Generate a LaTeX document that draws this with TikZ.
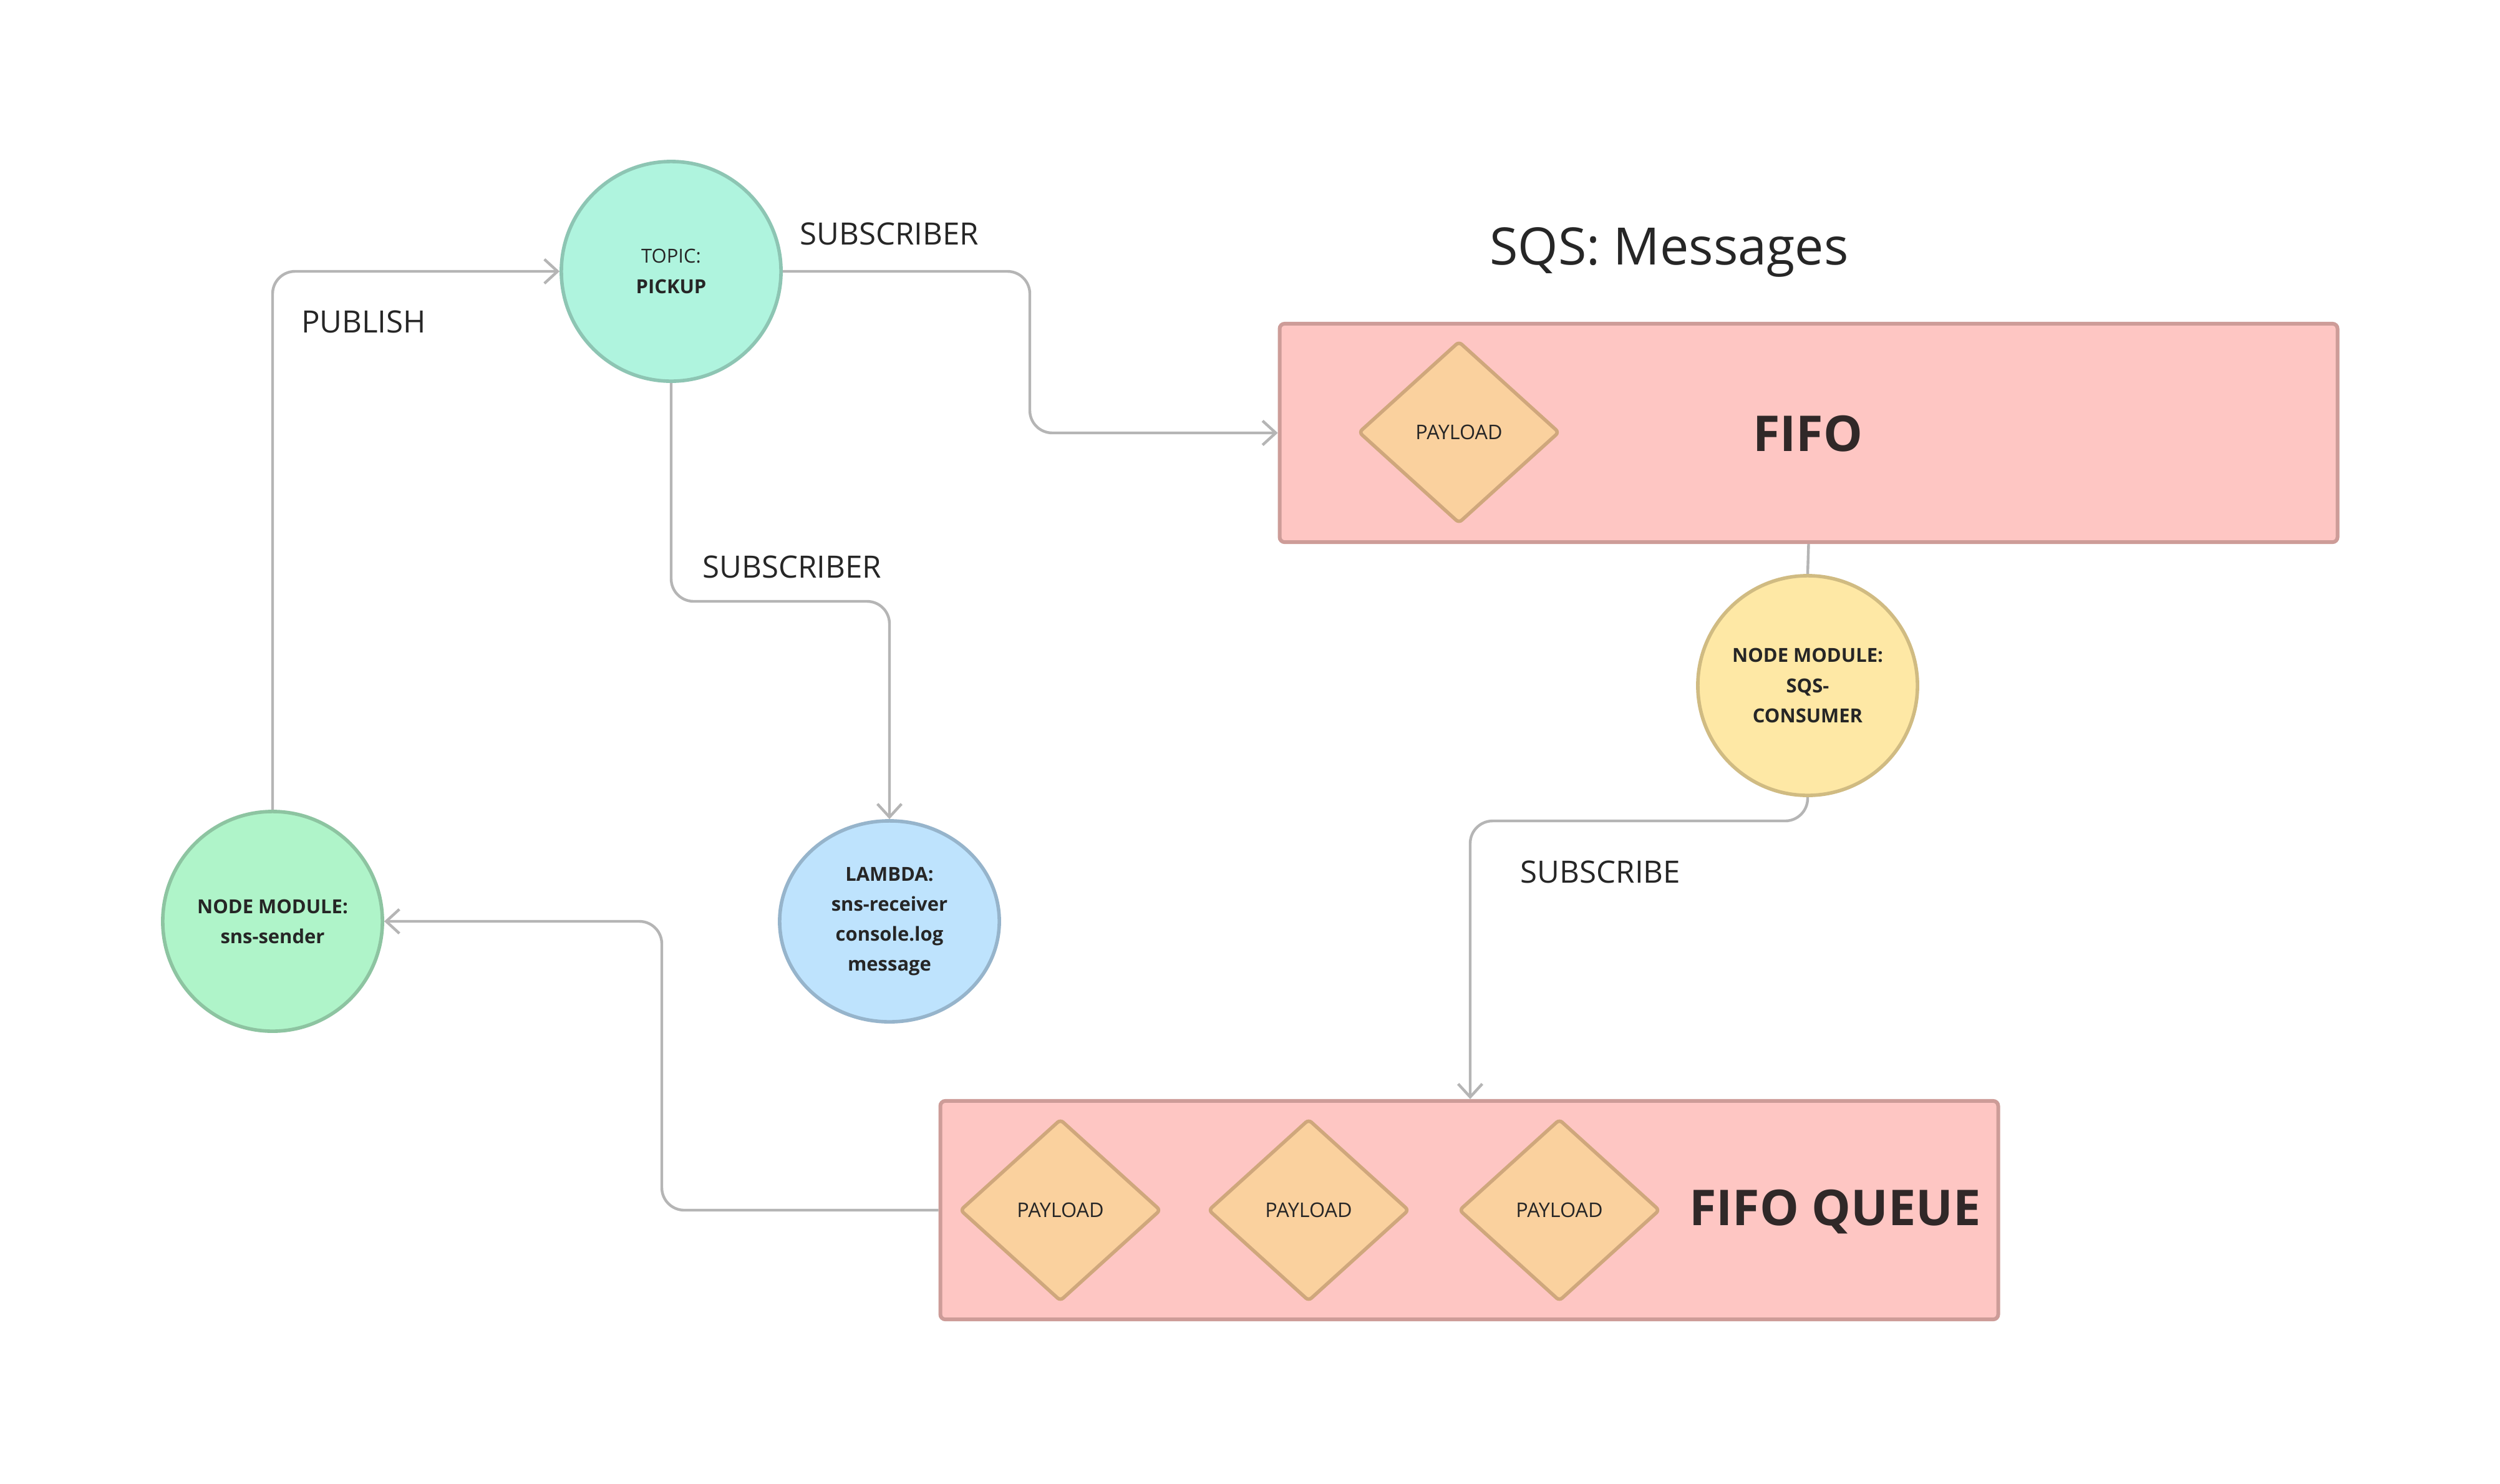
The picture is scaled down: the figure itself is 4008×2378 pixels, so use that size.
\documentclass[tikz,border=0pt]{standalone}
\usepackage{fontspec}
\setmainfont{Open Sans}
\usetikzlibrary{arrows.meta,shapes.geometric}
\definecolor{conn}{HTML}{B5B5B5}
\definecolor{txt}{HTML}{262626}
\definecolor{topicfill}{HTML}{AFF4DE}
\definecolor{topicdraw}{HTML}{8DC5B3}
\definecolor{sendfill}{HTML}{AFF4C9}
\definecolor{senddraw}{HTML}{8DC4A1}
\definecolor{lamfill}{HTML}{BEE3FD}
\definecolor{lamdraw}{HTML}{96B4CB}
\definecolor{consfill}{HTML}{FEE8A5}
\definecolor{consdraw}{HTML}{D0BB82}
\definecolor{qfill}{HTML}{FEC6C3}
\definecolor{qdraw}{HTML}{CD9C98}
\definecolor{pfill}{HTML}{FAD19E}
\definecolor{pdraw}{HTML}{CFA77C}
\definecolor{titletxt}{HTML}{302828}
\tikzset{
  every node/.style={text=txt},
  connector/.style={draw=conn, line width=1.25pt, rounded corners=0.36cm},
  arr/.style={-{Straight Barb[length=6pt,width=11pt,line width=1.25pt]}},
  circnode/.style={circle, line width=1.6pt, minimum size=3.52cm, inner sep=0pt, align=center,
     font=\fontsize{8.8}{13.7}\selectfont\bfseries},
  queuebox/.style={rectangle, rounded corners=0.08cm, fill=qfill, draw=qdraw, line width=1.7pt,
     minimum width=16.95cm, minimum height=3.5cm},
  payload/.style={diamond, fill=pfill, draw=pdraw, line width=1.6pt, rounded corners=0.06cm,
     minimum width=3.22cm, minimum height=2.92cm, inner sep=0pt, font=\fontsize{9.2}{10}\selectfont},
  lbl/.style={font=\fontsize{14}{16}\selectfont},
  bigtitle/.style={text=titletxt, font=\fontsize{22.5}{28}\selectfont\bfseries}
}
\begin{document}
\begin{tikzpicture}[x=0.01cm,y=-0.01cm]
\useasboundingbox[fill=white] (0,0) rectangle (4008,2378);
% nodes
\node[circnode, fill=topicfill, draw=topicdraw] (topic) at (1076,435) {{\mdseries TOPIC:}\\PICKUP};
\node[circnode, fill=sendfill, draw=senddraw] (sender) at (437,1477) {NODE MODULE:\\sns-sender};
\node[ellipse, fill=lamfill, draw=lamdraw, line width=1.6pt, minimum width=3.52cm, minimum height=3.22cm,
  inner sep=0pt, align=center, font=\fontsize{8.8}{13.7}\selectfont\bfseries] (lambda) at (1426,1477)
  {LAMBDA:\\sns-receiver\\console.log\\message};
\node[circnode, fill=consfill, draw=consdraw] (consumer) at (2898,1099) {NODE MODULE:\\SQS-\\CONSUMER};
\node[queuebox] (fifo) at (2899.5,694) {};
\node[payload] (p0) at (2339,693) {PAYLOAD};
\node[bigtitle] (fifolbl) at (2898,695) {FIFO};
\node[queuebox] (queue) at (2355.5,1940) {};
\node[payload] (p1) at (1700,1940) {PAYLOAD};
\node[payload] (p2) at (2098,1940) {PAYLOAD};
\node[payload] (p3) at (2500,1940) {PAYLOAD};
\node[bigtitle] (queuelbl) at (2942,1943) {FIFO QUEUE};
\node[font=\fontsize{23.5}{28}\selectfont] (sqs) at (2676,404) {SQS: Messages};
% labels
\node[lbl] (l1) at (1426,375) {SUBSCRIBER};
\node[lbl] (l2) at (583,516) {PUBLISH};
\node[lbl] (l3) at (1270,909) {SUBSCRIBER};
\node[lbl] (l4) at (2566,1398) {SUBSCRIBE};
% helper coordinates
\coordinate (c1) at (1651,0);
\coordinate (c2) at (0,964);
\coordinate (c3) at (2357,1316);
\coordinate (c4) at (1061,1477);
% connectors
\draw[connector, arr] (sender.north) |- (topic.west);
\draw[connector, arr] (topic.east) -| (c1 |- fifo.west) -- (fifo.west);
\draw[connector, arr] (topic.south) |- (lambda.north |- c2) -- (lambda.north);
\draw[connector] (fifo.south) -- (consumer.north);
\draw[connector, arr] (consumer.south) |- (c3) -- (c3 |- queue.north);
\draw[connector, arr] (queue.west) -| (c4) -- (sender.east);
\end{tikzpicture}
\end{document}
